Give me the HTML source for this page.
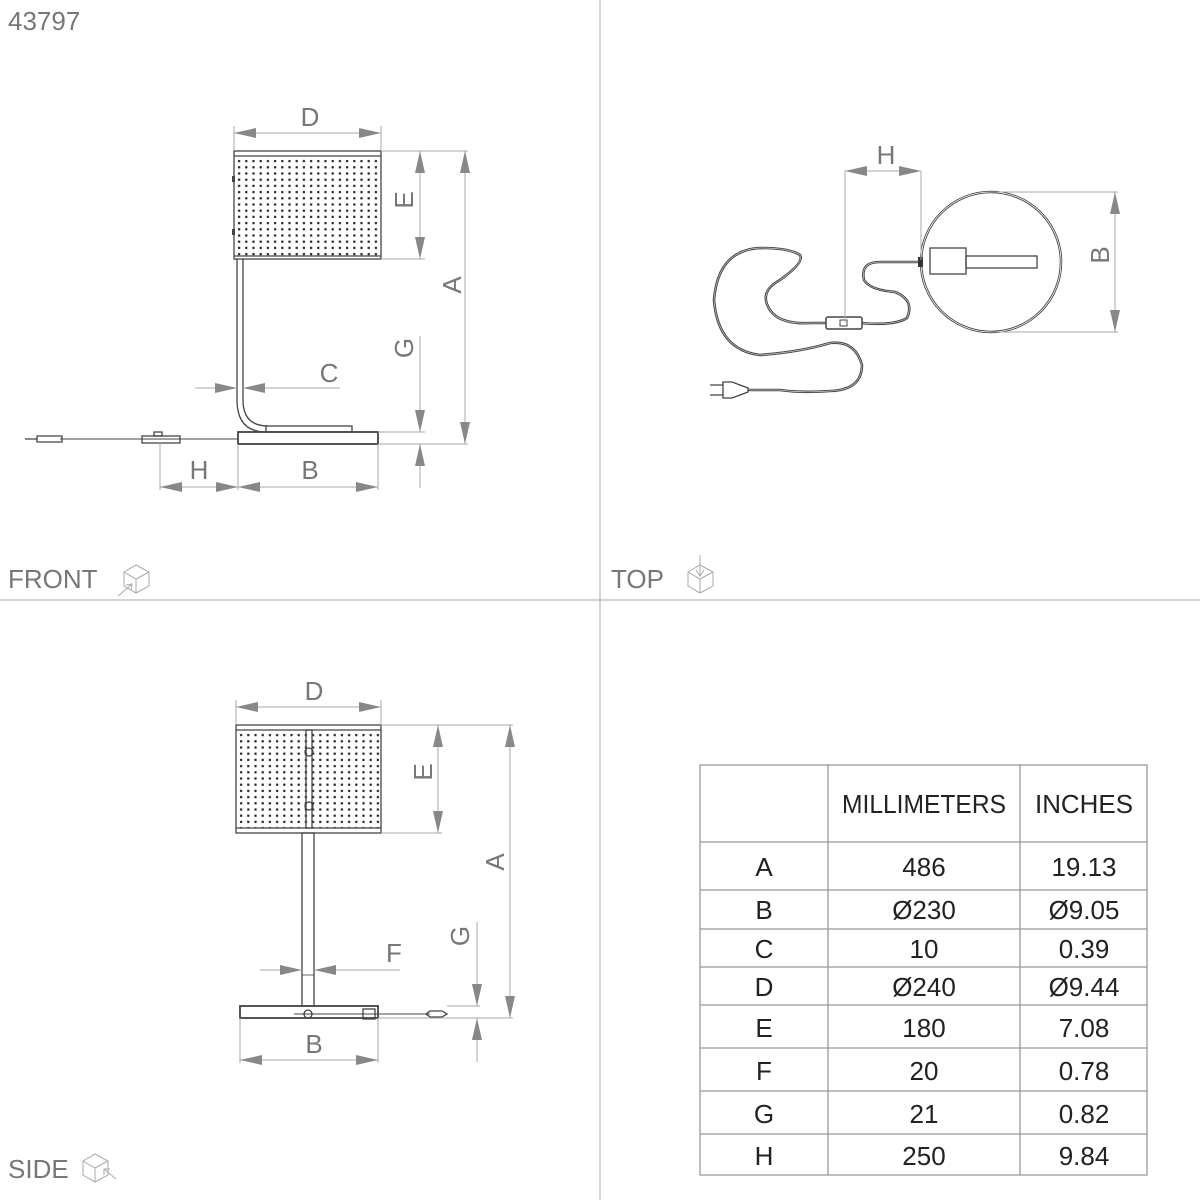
<!DOCTYPE html>
<html><head><meta charset="utf-8"><style>
html,body{margin:0;padding:0;background:#fff}
svg{display:block}
text{font-family:"Liberation Sans",sans-serif}
.lbl{fill:#777;font-size:26px}
.d{stroke:#aaa;stroke-width:1;fill:none}
.k{stroke:#444;stroke-width:1.3;fill:none}
.t{fill:#222;font-size:26px;text-anchor:middle}
</style></head><body>
<svg width="1200" height="1200" viewBox="0 0 1200 1200" xmlns="http://www.w3.org/2000/svg">
<defs>
<marker id="ar" markerWidth="22" markerHeight="10" refX="22" refY="5" orient="auto-start-reverse" markerUnits="userSpaceOnUse">
<path d="M0,0 L22,5 L0,10 Z" fill="#888"/></marker>
<pattern id="dots" x="236" y="158" width="7.2" height="6.2" patternUnits="userSpaceOnUse">
<rect x="2" y="2" width="2.2" height="2.2" fill="#222"/></pattern>
<pattern id="dots2" x="238" y="732" width="7.2" height="6.2" patternUnits="userSpaceOnUse">
<rect x="2" y="2" width="2.2" height="2.2" fill="#222"/></pattern>
</defs>
<line x1="600" y1="0" x2="600" y2="1200" stroke="#bbb" stroke-width="1.2"/>
<line x1="0" y1="600" x2="1200" y2="600" stroke="#bbb" stroke-width="1.2"/>
<text x="8" y="30" class="lbl" font-size="24">43797</text>
<text x="8" y="588" class="lbl">FRONT</text>
<text x="611" y="588" class="lbl">TOP</text>
<text x="8" y="1178" class="lbl">SIDE</text>
<g stroke="#aaa" fill="none" stroke-width="1">
<path d="M124,572 L136,565 L149,572 L149,586 L136,593 L124,586 Z M124,572 L136,579 L149,572 M136,579 L136,593"/>
<path d="M118,596 L132,584 M126,585 L132,584 L131,590"/>
<path d="M688,572 L700,565 L713,572 L713,586 L700,593 L688,586 Z M688,572 L700,579 L713,572 M700,579 L700,593"/>
<path d="M700,555 L700,575 M696,570 L700,576 L704,570"/>
<path d="M83,1161 L95,1154 L108,1161 L108,1175 L95,1182 L83,1175 Z M83,1161 L95,1168 L108,1161 M95,1168 L95,1182"/>
<path d="M116,1179 L104,1169 M104,1175 L104,1169 L110,1169"/>
</g>

<!-- FRONT VIEW -->
<rect x="236" y="157" width="145" height="99" fill="url(#dots)"/>
<rect x="234" y="151" width="147" height="108" class="k"/>
<line x1="234" y1="156" x2="381" y2="156" class="k"/>
<line x1="234" y1="256" x2="381" y2="256" class="k"/>
<rect x="232" y="176" width="3" height="6" fill="#444"/>
<rect x="232" y="229" width="3" height="6" fill="#444"/>
<path d="M237,259 L237,400 Q237,432 266,432 M243,259 L243,400 Q243,426 268,426" class="k"/>
<rect x="266" y="426" width="86" height="6" class="k"/>
<rect x="238" y="432" width="140" height="12" class="k" style="stroke-width:1.8"/>
<line x1="60" y1="439" x2="238" y2="439" class="k" style="stroke-width:1"/>
<rect x="142" y="436" width="38" height="7" class="k"/>
<rect x="154" y="432" width="8" height="4" class="k"/>
<path d="M25,439 L37,439 M37,436 L62,436 L62,442 L37,442 Z" class="k"/>
<line x1="234" y1="126" x2="234" y2="150" class="d"/><line x1="381" y1="126" x2="381" y2="150" class="d"/>
<line x1="234" y1="133" x2="381" y2="133" class="d" marker-start="url(#ar)" marker-end="url(#ar)"/>
<text x="310" y="126" class="lbl" text-anchor="middle">D</text>
<line x1="381" y1="151" x2="468" y2="151" class="d"/><line x1="381" y1="259" x2="425" y2="259" class="d"/>
<line x1="420" y1="151" x2="420" y2="259" class="d" marker-start="url(#ar)" marker-end="url(#ar)"/>
<text class="lbl" text-anchor="middle" transform="translate(413,200) rotate(-90)">E</text>
<line x1="465" y1="151" x2="465" y2="444" class="d" marker-start="url(#ar)" marker-end="url(#ar)"/>
<text class="lbl" text-anchor="middle" transform="translate(461,285) rotate(-90)">A</text>
<line x1="378" y1="432" x2="425" y2="432" class="d"/><line x1="378" y1="444" x2="468" y2="444" class="d"/>
<line x1="420" y1="336" x2="420" y2="432" class="d" marker-end="url(#ar)"/>
<line x1="420" y1="488" x2="420" y2="444" class="d" marker-end="url(#ar)"/>
<text class="lbl" text-anchor="middle" transform="translate(413,348) rotate(-90)">G</text>
<line x1="195" y1="388" x2="237" y2="388" class="d" marker-end="url(#ar)"/>
<line x1="340" y1="388" x2="243" y2="388" class="d" marker-end="url(#ar)"/>
<text x="329" y="382" class="lbl" text-anchor="middle">C</text>
<line x1="160" y1="442" x2="160" y2="490" class="d"/><line x1="238" y1="444" x2="238" y2="490" class="d"/><line x1="378" y1="444" x2="378" y2="490" class="d"/>
<line x1="160" y1="487" x2="238" y2="487" class="d" marker-start="url(#ar)" marker-end="url(#ar)"/>
<line x1="238" y1="487" x2="378" y2="487" class="d" marker-start="url(#ar)" marker-end="url(#ar)"/>
<text x="199" y="479" class="lbl" text-anchor="middle">H</text>
<text x="310" y="479" class="lbl" text-anchor="middle">B</text>

<!-- TOP VIEW -->
<circle cx="991" cy="262" r="70" fill="none" stroke="#444" stroke-width="2.5"/>
<circle cx="991" cy="262" r="70" fill="none" stroke="#fff" stroke-width="0.8"/>
<rect x="930" y="248" width="36" height="26" class="k"/>
<rect x="966" y="256" width="71" height="12" class="k"/>
<rect x="918" y="257" width="5" height="10" fill="#333"/>
<path d="M918,262 L880,262 Q860,262 864,280 Q870,290 895,292 Q915,300 907,318 Q895,326 860,323 L848,323 M826,323 L812,323 Q780,325 770,310 Q758,292 780,280 Q805,262 800,255 Q790,248 760,248 Q718,250 714,300 Q718,350 760,355 Q800,352 830,343 Q855,340 862,365 Q862,390 830,391 Q800,393 780,390 L748,390" fill="none" stroke="#444" stroke-width="2.6"/>
<path d="M918,262 L880,262 Q860,262 864,280 Q870,290 895,292 Q915,300 907,318 Q895,326 860,323 L848,323 M826,323 L812,323 Q780,325 770,310 Q758,292 780,280 Q805,262 800,255 Q790,248 760,248 Q718,250 714,300 Q718,350 760,355 Q800,352 830,343 Q855,340 862,365 Q862,390 830,391 Q800,393 780,390 L748,390" fill="none" stroke="#ccc" stroke-width="0.7"/>
<rect x="826" y="317" width="36" height="12" rx="2" fill="#fff" stroke="#444" stroke-width="1.5"/>
<rect x="840" y="320" width="7" height="6" fill="none" stroke="#444" stroke-width="1"/>
<path d="M723,382 L723,398 L732,398 L748,392 L748,388 L732,382 Z M710,385 L723,385 M710,395 L723,395" class="k"/>
<line x1="845" y1="171" x2="845" y2="322" class="d"/><line x1="921" y1="171" x2="921" y2="260" class="d"/>
<line x1="845" y1="171" x2="921" y2="171" class="d" marker-start="url(#ar)" marker-end="url(#ar)"/>
<text x="886" y="164" class="lbl" text-anchor="middle">H</text>
<line x1="991" y1="192" x2="1118" y2="192" class="d"/><line x1="991" y1="332" x2="1118" y2="332" class="d"/>
<line x1="1115" y1="192" x2="1115" y2="332" class="d" marker-start="url(#ar)" marker-end="url(#ar)"/>
<text class="lbl" text-anchor="middle" transform="translate(1109,255) rotate(-90)">B</text>

<!-- SIDE VIEW -->
<rect x="238" y="731" width="143" height="97" fill="url(#dots2)"/>
<rect x="236" y="725" width="145" height="108" class="k"/>
<line x1="236" y1="730" x2="381" y2="730" class="k"/>
<line x1="236" y1="828" x2="381" y2="828" class="k"/>
<rect x="306" y="730" width="6" height="98" fill="#fff" class="k"/>
<circle cx="309" cy="752" r="4" fill="#fff" class="k"/><circle cx="309" cy="806" r="4" fill="#fff" class="k"/>
<rect x="302" y="833" width="12" height="173" class="k"/>
<line x1="302" y1="975" x2="314" y2="975" class="k" style="stroke-width:0.8"/>
<rect x="240" y="1006" width="138" height="12" class="k" style="stroke-width:1.8"/>
<line x1="294" y1="1014" x2="430" y2="1014" class="k" style="stroke-width:1"/>
<circle cx="308" cy="1014" r="4" fill="#fff" class="k"/>
<rect x="363" y="1009" width="12" height="10" class="k"/>
<path d="M430,1011 L442,1011 L447,1014 L442,1017 L430,1017 L426,1014 Z" class="k"/>
<line x1="236" y1="700" x2="236" y2="724" class="d"/><line x1="381" y1="700" x2="381" y2="724" class="d"/>
<line x1="236" y1="707" x2="381" y2="707" class="d" marker-start="url(#ar)" marker-end="url(#ar)"/>
<text x="314" y="700" class="lbl" text-anchor="middle">D</text>
<line x1="381" y1="725" x2="513" y2="725" class="d"/><line x1="381" y1="833" x2="442" y2="833" class="d"/>
<line x1="438" y1="725" x2="438" y2="833" class="d" marker-start="url(#ar)" marker-end="url(#ar)"/>
<text class="lbl" text-anchor="middle" transform="translate(432,772) rotate(-90)">E</text>
<line x1="510" y1="725" x2="510" y2="1018" class="d" marker-start="url(#ar)" marker-end="url(#ar)"/>
<text class="lbl" text-anchor="middle" transform="translate(504,862) rotate(-90)">A</text>
<line x1="447" y1="1006" x2="480" y2="1006" class="d"/><line x1="378" y1="1018" x2="513" y2="1018" class="d"/>
<line x1="477" y1="922" x2="477" y2="1006" class="d" marker-end="url(#ar)"/>
<line x1="477" y1="1062" x2="477" y2="1018" class="d" marker-end="url(#ar)"/>
<text class="lbl" text-anchor="middle" transform="translate(469,936) rotate(-90)">G</text>
<line x1="260" y1="970" x2="302" y2="970" class="d" marker-end="url(#ar)"/>
<line x1="400" y1="970" x2="314" y2="970" class="d" marker-end="url(#ar)"/>
<text x="394" y="962" class="lbl" text-anchor="middle">F</text>
<line x1="240" y1="1018" x2="240" y2="1063" class="d"/><line x1="378" y1="1018" x2="378" y2="1063" class="d"/>
<line x1="240" y1="1060" x2="378" y2="1060" class="d" marker-start="url(#ar)" marker-end="url(#ar)"/>
<text x="314" y="1053" class="lbl" text-anchor="middle">B</text>

<!-- TABLE -->
<g stroke="#999" stroke-width="1.3" fill="none">
<rect x="700" y="765" width="447" height="410"/>
<line x1="828" y1="765" x2="828" y2="1175"/><line x1="1020" y1="765" x2="1020" y2="1175"/>
<line x1="700" y1="842" x2="1147" y2="842"/><line x1="700" y1="890" x2="1147" y2="890"/>
<line x1="700" y1="929" x2="1147" y2="929"/><line x1="700" y1="967" x2="1147" y2="967"/>
<line x1="700" y1="1005" x2="1147" y2="1005"/><line x1="700" y1="1048" x2="1147" y2="1048"/>
<line x1="700" y1="1091" x2="1147" y2="1091"/><line x1="700" y1="1134" x2="1147" y2="1134"/>
</g>
<g class="t">
<text x="924" y="813" textLength="164" lengthAdjust="spacingAndGlyphs">MILLIMETERS</text>
<text x="1084" y="813" textLength="98" lengthAdjust="spacingAndGlyphs">INCHES</text>
<text x="764" y="876">A</text><text x="924" y="876">486</text><text x="1084" y="876">19.13</text>
<text x="764" y="919">B</text><text x="924" y="919">Ø230</text><text x="1084" y="919">Ø9.05</text>
<text x="764" y="958">C</text><text x="924" y="958">10</text><text x="1084" y="958">0.39</text>
<text x="764" y="996">D</text><text x="924" y="996">Ø240</text><text x="1084" y="996">Ø9.44</text>
<text x="764" y="1037">E</text><text x="924" y="1037">180</text><text x="1084" y="1037">7.08</text>
<text x="764" y="1080">F</text><text x="924" y="1080">20</text><text x="1084" y="1080">0.78</text>
<text x="764" y="1123">G</text><text x="924" y="1123">21</text><text x="1084" y="1123">0.82</text>
<text x="764" y="1165">H</text><text x="924" y="1165">250</text><text x="1084" y="1165">9.84</text>
</g>
</svg>
</body></html>
